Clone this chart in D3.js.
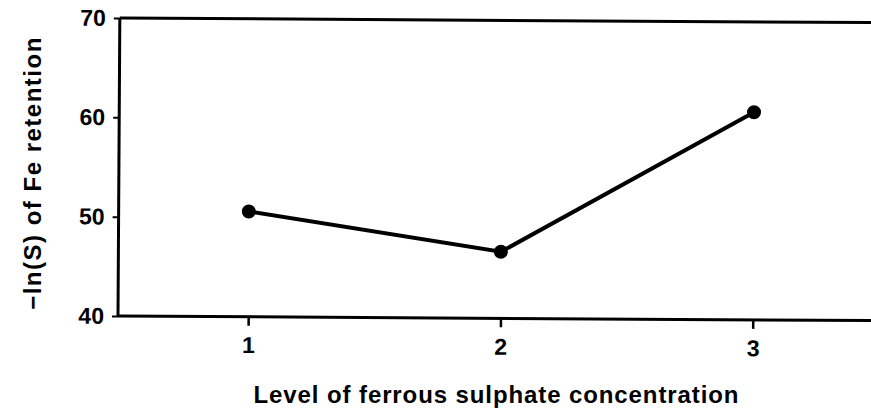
<!DOCTYPE html>
<meta charset="utf-8">
<script src="https://d3js.org/d3.v7.min.js"></script>
<style>
  body { margin: 0; background: #fff; }
  text { font-family: "Liberation Sans", Arial, sans-serif; font-weight: bold; fill: #000; }
</style>
<div id="my_dataviz"></div>
<script>
// data
var levels = [1, 2, 3];
var retention = [50.6, 46.7, 60.9];
var yTicks = [40, 50, 60, 70];
var xTitle = "Level of ferrous sulphate concentration";
var yTitle = "\u2212ln(S) of Fe retention";

var W = 871, H = 419;
var plotLeft = 118, plotTop = 18, plotBottom = 316;

var svg = d3.select("#my_dataviz")
  .append("svg")
    .attr("width", W)
    .attr("height", H);

// the scan is tilted a little
var g = svg.append("g")
  .attr("transform", "rotate(0.35," + plotLeft + "," + plotBottom + ")");

var x = d3.scaleLinear()
  .domain([0.484, 3.98])
  .range([plotLeft, 1000]);

var y = d3.scaleLinear()
  .domain([40, 70])
  .range([plotBottom, plotTop]);

// frame top (runs off the right edge)
g.append("line")
  .attr("x1", plotLeft).attr("x2", W + 20)
  .attr("y1", y(70)).attr("y2", y(70))
  .attr("stroke", "#000").attr("stroke-width", 3);

// X axis
var xAxis = g.append("g")
  .attr("transform", "translate(0," + plotBottom + ")")
  .call(d3.axisBottom(x).tickValues(levels).tickFormat(d3.format("d")).tickSize(9).tickPadding(11));
xAxis.select(".domain").attr("stroke-width", 3).attr("d", "M" + plotLeft + ",0H" + (W + 20));
xAxis.selectAll(".tick line").attr("stroke-width", 2.5);
xAxis.selectAll(".tick text").style("font-size", "23px");

// Y axis
var yAxis = g.append("g")
  .attr("transform", "translate(" + plotLeft + ",0)")
  .call(d3.axisLeft(y).tickValues(yTicks).tickSize(6).tickPadding(8));
yAxis.select(".domain").attr("stroke-width", 3).attr("d", "M0," + plotTop + "V" + plotBottom);
yAxis.selectAll(".tick line").attr("stroke-width", 2);
yAxis.selectAll(".tick text").style("font-size", "23px");

// line + markers
var pts = levels.map(function (d, i) { return [d, retention[i]]; });
g.append("path")
  .datum(pts)
  .attr("fill", "none")
  .attr("stroke", "#000")
  .attr("stroke-width", 4)
  .attr("d", d3.line().x(function (d) { return x(d[0]); }).y(function (d) { return y(d[1]); }));

g.selectAll("circle.pt")
  .data(pts)
  .enter()
  .append("circle")
    .attr("class", "pt")
    .attr("cx", function (d) { return x(d[0]); })
    .attr("cy", function (d) { return y(d[1]); })
    .attr("r", 7)
    .attr("fill", "#000");

// titles
svg.append("text")
  .attr("x", x(2) - 4)
  .attr("y", 403)
  .attr("text-anchor", "middle")
  .style("font-size", "24px")
  .style("letter-spacing", "0.9px")
  .text(xTitle);

svg.append("text")
  .attr("transform", "translate(41," + ((plotTop + plotBottom) / 2 + 6) + ") rotate(-90)")
  .attr("text-anchor", "middle")
  .style("font-size", "24px")
  .style("letter-spacing", "1.5px")
  .text(yTitle);
</script>
